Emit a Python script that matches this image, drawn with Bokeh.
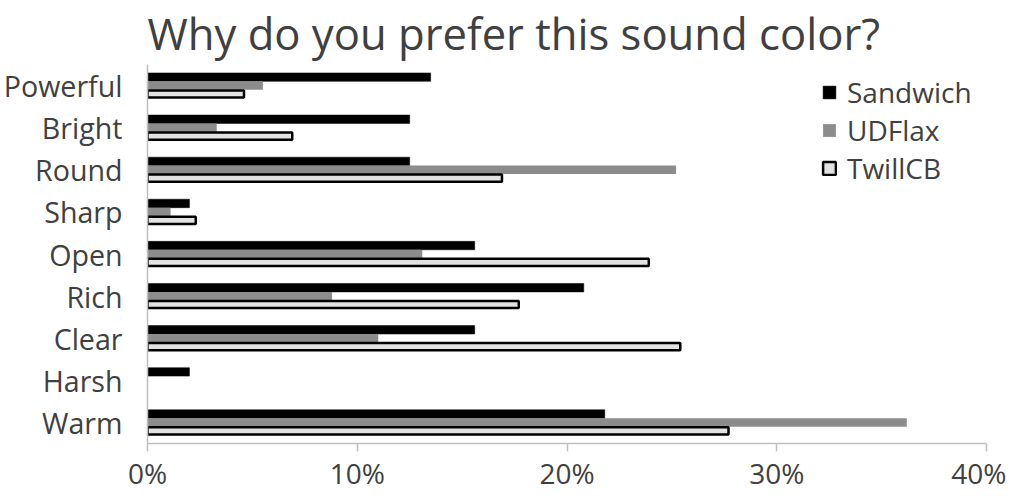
from bokeh.plotting import figure
from bokeh.models import ColumnDataSource, FactorRange, Range1d, FixedTicker, PrintfTickFormatter
from bokeh.transform import dodge
from bokeh.embed import file_html
from bokeh.resources import INLINE

categories = ["Powerful", "Bright", "Round", "Sharp", "Open", "Rich", "Clear", "Harsh", "Warm"]
sandwich = [13.5, 12.5, 12.5, 2.0, 15.6, 20.8, 15.6, 2.0, 21.8]
udflax = [5.5, 3.3, 25.2, 1.1, 13.1, 8.8, 11.0, 0.0, 36.2]
twillcb = [4.6, 6.9, 16.9, 2.3, 23.9, 17.7, 25.4, 0.0, 27.7]
x_ticks = [0, 10, 20, 30, 40]
title_text = "Why do you prefer this sound color?"

FONT = "Open Sans"
TXT = "#404040"
AX = "#bfbfbf"


def src(vals):
    cats = [c for c, v in zip(categories, vals) if v > 0]
    vs = [v for v in vals if v > 0]
    return ColumnDataSource(dict(cat=cats, val=vs))


p = figure(width=1006, height=494, output_backend="svg", toolbar_location=None,
           y_range=FactorRange(factors=categories[::-1]), x_range=Range1d(0, 40),
           min_border_left=142, min_border_right=20, min_border_top=64, min_border_bottom=0)

p.title.text = title_text
p.title.align = "left"
p.title.text_font = FONT
p.title.text_font_size = "43.6px"
p.title.text_font_style = "normal"
p.title.text_color = TXT
p.title.standoff = 0
p.title.text_line_height = 0.75
p.title.vertical_align = "top"

H = 0.2
p.hbar(y=dodge("cat", 0.2, range=p.y_range), right="val", left=0, height=H,
       source=src(sandwich), fill_color="black", line_color="black", line_width=0.5,
       legend_label="Sandwich")
p.hbar(y=dodge("cat", 0.0, range=p.y_range), right="val", left=0, height=H,
       source=src(udflax), fill_color="#8c8c8c", line_color=None,
       legend_label="UDFlax")
p.hbar(y=dodge("cat", -0.2, range=p.y_range), right="val", left=0, height=H - 0.03,
       source=src(twillcb), fill_color="#e2e2e2", line_color="black", line_width=2.5,
       legend_label="TwillCB")

p.xgrid.grid_line_color = None
p.ygrid.grid_line_color = None
p.outline_line_color = None

p.xaxis.ticker = FixedTicker(ticks=x_ticks)
p.xaxis.formatter = PrintfTickFormatter(format="%d%%")
p.xaxis.axis_line_color = AX
p.xaxis.axis_line_width = 1.5
p.xaxis.major_tick_line_color = AX
p.xaxis.major_tick_line_width = 1.5
p.xaxis.major_tick_out = 8
p.xaxis.major_tick_in = 0
p.xaxis.minor_tick_line_color = None
p.xaxis.major_label_standoff = 2
p.xaxis.axis_label_standoff = 0
p.xaxis.major_label_text_font = FONT
p.xaxis.major_label_text_font_size = "28px"
p.xaxis.major_label_text_color = TXT

p.yaxis.axis_line_color = AX
p.yaxis.axis_line_width = 1.5
p.yaxis.major_tick_line_color = None
p.yaxis.minor_tick_line_color = None
p.yaxis.major_label_standoff = 19
p.yaxis.major_label_text_font = FONT
p.yaxis.major_label_text_font_size = "28.6px"
p.yaxis.major_label_text_color = TXT

lg = p.legend[0]
lg.location = "top_right"
lg.margin = 9
lg.padding = 7
lg.spacing = 0
lg.border_line_color = None
lg.background_fill_alpha = 0
lg.glyph_width = 16
lg.glyph_height = 16
lg.label_standoff = 10
lg.label_width = 130
lg.label_text_font = FONT
lg.label_text_font_size = "28px"
lg.label_text_color = TXT
lg.label_height = 34

open("out.html", "w").write(file_html(p, INLINE))
